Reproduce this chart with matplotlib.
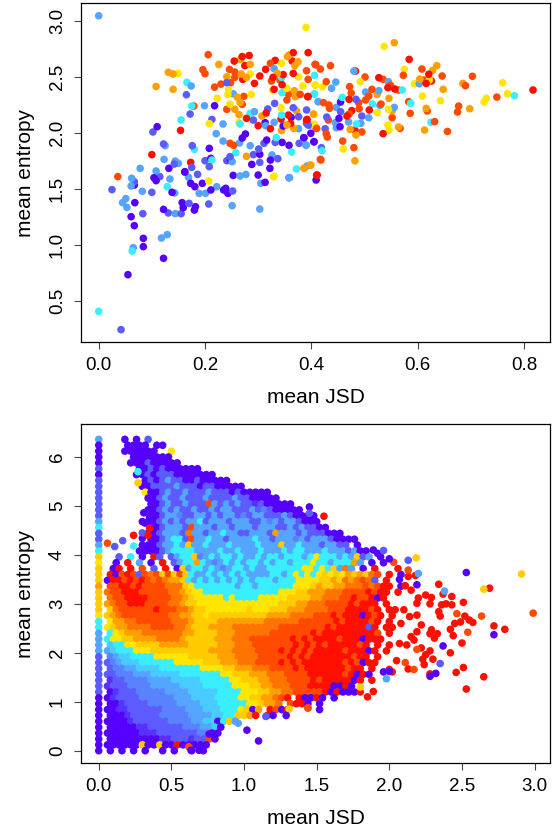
import numpy as np
import matplotlib
matplotlib.use('Agg')
import matplotlib.pyplot as plt

plt.rcParams['font.family'] = ['Liberation Sans', 'DejaVu Sans']

palette = {'0': '#5500FF', 'c': '#5830FF', '1': '#5B5BFF', 'a': '#5882FF', '2': '#55A5FF', 'b': '#48CCFF',
           '3': '#38EEFF', '4': '#FFE600', '5': '#FFCC00', '6': '#FFA000', '7': '#FF7400', '8': '#FF4A00', '9': '#FF0F00'}

# top panel, one list per colour class (mean JSD, mean entropy)
top_purple = [(.218,2.242),(.11,2.055),(.313,2.091),(.362,2.138),(.347,2.061),(.399,1.996),(.276,1.99),(.27,1.954),
    (.208,1.862),(.316,1.936),(.345,1.915),(.358,1.889),(.386,1.957),(.405,1.921),(.211,1.773),(.132,1.684),(.162,1.654),
    (.248,1.758),(.303,1.809),(.288,1.719),(.323,1.758),(.322,1.684),(.067,1.535),(.104,1.6),(.108,1.574),(.138,1.47),
    (.162,1.651),(.173,1.55),(.181,1.52),(.195,1.55),(.211,1.491),(.235,1.491),(.239,1.506),(.243,1.461),(.253,1.621),
    (.3,1.624),(.313,1.559),(.068,1.378),(.061,1.253),(.067,1.173),(.122,1.318),(.157,1.378),(.159,1.333),(.18,1.312),
    (.182,1.342),(.084,1.06),(.084,.986),(.122,.882),(.055,.736),(.455,2.275),(.452,2.129),(.454,2.055),(.386,1.957),
    (.405,1.921),(.409,1.58)]
top_blue = [(.241,2.447),(.165,2.34),(.172,2.168),(.213,2.12),(.102,2.008),(.291,2.114),(.318,2.213),(.331,2.263),
    (.366,2.224),(.391,2.204),(.376,2.144),(.391,2.085),(.397,2.07),(.122,1.901),(.176,1.886),(.301,1.856),(.311,1.907),
    (.332,1.915),(.377,1.907),(.142,1.722),(.2,1.752),(.208,1.699),(.175,1.693),(.247,1.788),(.241,1.752),(.291,1.806),
    (.303,1.737),(.337,1.77),(.358,1.6),(.067,1.565),(.025,1.494),(.1,1.47),(.115,1.61),(.186,1.63),(.207,1.366),
    (.252,1.482),(.083,1.28),(.131,1.286),(.155,1.28),(.17,1.372),(.042,.246),(.484,2.299),(.455,2.189),(.429,2.141),
    (.495,2.15),(.426,2.037),(.394,2.07),(.419,1.868)]
top_light = [(0,3.044),(.174,2.418),(.199,2.242),(.234,2.079),(.253,2.349),(.293,2.189),(.314,2.064),(.33,2.572),
    (.33,2.094),(.376,2.037),(.413,2.278),(.221,1.993),(.125,1.886),(.234,1.927),(.265,1.91),(.285,1.886),(.39,1.892),
    (.123,1.764),(.144,1.749),(.15,1.728),(.078,1.684),(.108,1.66),(.251,1.743),(.326,1.803),(.392,1.705),(.062,1.595),
    (.061,1.526),(.082,1.479),(.134,1.589),(.143,1.464),(.169,1.604),(.189,1.461),(.201,1.461),(.222,1.52),(.266,1.616),
    (.277,1.63),(.305,1.55),(.359,1.601),(.251,1.351),(.303,1.321),(.051,1.414),(.045,1.378),(.053,1.336),(.144,1.28),
    (.118,1.063),(.129,1.093),(.065,.977),(.48,2.551),(.545,2.456),(.603,2.438),(.556,2.227),(.447,2.227),(.502,2.364),
    (.527,2.376),(.529,2.245),(.508,2.135),(.47,2.097),(.493,2.085),(.447,2.046),(.445,2.091),(.413,2.278),(.438,2.397),
    (.446,2.453),(.39,1.889)]
top_cyan = [(.344,2.495),(.406,2.513),(.345,2.358),(.406,2.346),(.166,2.45),(.175,2.239),(.155,2.115),(.285,2.174),
    (.266,2.079),(.344,2.159),(.334,1.957),(.18,1.853),(.213,1.758),(.258,1.823),(.363,1.829),(.372,1.678),(.129,1.52),
    (.063,.947),(0,.409),(.571,2.382),(.587,2.263),(.782,2.331),(.625,2.094),(.458,2.316),(.515,2.257),(.485,2.079),
    (.405,2.346),(.42,1.841)]
top_yellow = [(.39,2.94),(.149,2.53),(.285,2.525),(.344,2.62),(.376,2.498),(.408,2.426),(.384,2.418),(.327,2.382),
    (.354,2.397),(.208,2.082),(.223,2.308),(.243,2.343),(.244,2.382),(.287,2.343),(.247,2.257),(.264,2.091),(.343,2.224),
    (.405,2.165),(.406,2.076),(.329,1.609),(.207,1.571),(.33,1.613),(.537,2.771),(.492,2.456),(.575,2.566),(.594,2.438),
    (.622,2.471),(.76,2.447),(.609,2.328),(.643,2.287),(.769,2.349),(.729,2.308),(.725,2.275),(.524,2.18),(.545,2.21),
    (.544,2.07),(.546,2.025),(.407,2.426),(.421,2.409),(.404,2.076),(.46,1.856),(.386,1.687)]
top_amber = [(.226,2.61),(.285,2.61),(.267,2.655),(.131,2.54),(.14,2.525),(.108,2.414),(.14,2.388),(.241,2.5),
    (.268,2.525),(.278,2.495),(.355,2.679),(.358,2.694),(.375,2.634),(.369,2.599),(.336,2.53),(.368,2.376),(.37,2.322),
    (.261,2.317),(.266,2.272),(.256,2.21),(.264,2.162),(.307,2.15),(.372,2.198),(.354,2.07),(.367,2.04),(.344,2.02),
    (.278,1.791),(.386,1.684),(.399,1.713),(.556,2.804),(.628,2.557),(.636,2.599),(.604,2.48),(.685,2.441),(.648,2.388),
    (.546,2.308),(.698,2.215),(.616,2.218),(.552,2.195),(.613,2.025),(.564,2.052),(.524,2.343),(.404,2.168),(.473,2.031),
    (.484,1.981),(.482,1.751),(.398,1.713)]
top_orange = [(.206,2.697),(.196,2.563),(.2,2.527),(.218,2.408),(.23,2.435),(.246,2.566),(.256,2.542),(.256,2.495),
    (.248,2.447),(.323,2.62),(.391,2.554),(.325,2.462),(.341,2.471),(.394,2.477),(.357,2.346),(.379,2.343),(.179,2.239),
    (.273,2.325),(.27,2.254),(.241,2.21),(.354,2.293),(.409,2.04),(.247,1.907),(.254,1.889),(.418,1.758),(.036,1.61),
    (.407,2.611),(.417,2.569),(.436,2.599),(.501,2.498),(.535,2.477),(.549,2.423),(.564,2.382),(.573,2.513),(.608,2.569),
    (.646,2.507),(.612,2.471),(.703,2.504),(.69,2.421),(.583,2.278),(.749,2.319),(.677,2.239),(.675,2.186),(.618,2.195),
    (.586,2.174),(.552,2.135),(.632,2.1),(.656,2.013),(.567,2.04),(.472,2.412),(.475,2.355),(.514,2.388),(.508,2.328),
    (.502,2.293),(.489,2.269),(.531,2.257),(.49,2.215),(.471,2.168),(.495,2.008),(.41,2.04),(.433,2.248),(.423,2.269),
    (.434,2.219),(.428,2.456),(.432,2.114),(.428,1.993),(.43,1.963),(.459,1.927),(.48,1.868),(.417,1.764)]
top_red = [(.255,2.64),(.27,2.68),(.283,2.69),(.275,2.6),(.271,2.477),(.293,2.441),(.303,2.507),(.314,2.566),(.332,2.646),
    (.366,2.715),(.394,2.715),(.364,2.64),(.408,2.608),(.347,2.519),(.366,2.53),(.328,2.495),(.33,2.388),(.345,2.429),
    (.394,2.325),(.154,2.022),(.278,2.129),(.3,2.064),(.323,2.037),(.315,2.177),(.343,2.123),(.357,2.159),(.361,2.085),
    (.392,2.12),(.1,1.806),(.173,1.737),(.41,1.624),(.584,2.655),(.483,2.551),(.527,2.492),(.544,2.403),(.557,2.391),
    (.621,2.522),(.626,2.462),(.616,2.441),(.817,2.382),(.535,1.993),(.471,2.299),(.509,2.204),(.476,2.198),(.467,2.15),
    (.482,2.025),(.393,2.322),(.391,2.114),(.411,1.624)]
top_classes = [('0', top_purple), ('1', top_blue), ('2', top_light), ('3', top_cyan),
               ('6', top_amber), ('8', top_orange), ('9', top_red), ('4', top_yellow)]

# bottom panel, the dense part: one colour digit per hex cell, row per entropy level
grid_entropy = [6.36 - 0.12 * j for j in range(54)]
grid_rows = [
"   0 0 1",
"   0000 00",
"   000000  4",
"    0000000",
"    000100000",
"     00101000000",
"     00101110000000",
"      010121100100000",
"      001111211101100000",
"      4001211211121110100000",
"       00121121112111121100000",
"       001211211182121211c100000",
"       00121211211212211121a100000",
"       00122a1122121221a122111210000",
"      0001212122312221222112a21221000",
"       0012221822212212221222112121100",
"       0012221722122322112221622212111000",
"       0012331822322122223221222a2122210000",
"      000122325223222322223222522322212211 0",
"     0000123333222232232223222323322232221200",
"  1 3 0 91 12335a23233232232332333234333232512 0",
" 0 9 2 0 9 1233632a2323233232332333433233362 0 0",
" 09 9 8 1 9 05233232a2332322333333443435272 0 9",
"90898187858585322323232322223323434345454656578 9 0",
"09989898787665323232323232333233344445565767871 9",
"8899898888777543333333233233333344456556677787899 0",
"7889998888877654433333333333334445566677788889899 9",
"788999988887765444443433334444455556677788988909",
"67889998888776554444444444444455566777888898999 9",
"57888888988877655444444454445556667777888999989 99",
"567888888887766554555555555566667777888989990989 9",
"46677888888777655556666666677777788888898999989 9",
"45667777888877655566667777777788888888989999919 99",
"34566677777776655556667777778888888989999999998 9",
"344556666777765555566677788888889898999989990999",
"b33445555666665555566677788888889898989999989 9 9",
"2b333444555555555566667777888898989899999899909 9",
"a2bb33334444445555566677778888898989999999899 9",
"1a2bbb33333344444555666777888898989999999898099",
"1aa22bbbb33333334444556667778888989999999899 9",
"11aaa222bbbbb333333344555666777888899999989090",
"c11aaaa2222bbbbb3333344555667778888989999909 9",
"c111aaaa22222bbbb33333444556677788899990090",
"0c111aaaaa2222bbbbb3333444556677888889090009",
"0c1111aaaaaa222bbbb3333445566789 90090 0",
"00c1111aaaaa2222bbb33333445667 8990 0",
"00cc111111aaaa222bbb3334506 9809",
"000c11111aaaaa2222bb335569 90",
"0000c111111aaaa22bb0352",
"00000cc111111aaa22b0",
"000000ccc1111111aa0",
"000000000cc111c1180",
"000000500500900000",
"0 0 0 0  0 0  0 0",
]

# column of points at mean JSD 0
zero_colors = "20000" + "101111111" + "231123" + "54555655554" + "332222" + "1111111" + "0000000000"

# scattered points around the dense part (mean JSD, mean entropy, colour digit)
edge_x = [2.34,2.37,2.43,2.29,2.25,2.28,2.51,2.36,2.39,2.43,2.34,2.35,2.19,2.52,2.55,2.575,2.45,2.49,2.42,2.72,2.795,2.44,
    2.29,2.28,2.33,2.31,2.22,2.5,2.42,2.28,2.25,2.23,2.3,2.24,2.51,2.46,2.65,2.53,2.28,2.13,2.69,2.13,2.18,2.06,2.11,2.15,
    2.2,2.19,2.1,2.14,2.08,2.19,2.15,2.17,2.22,2.12,2.07,2.05,1.85,1.89,2.02,2.0,1.55,
    2.54,2.17,2.635,2.465,2.99,2.19,2.13,2.03,2.11,1.44,.62,.06,1.44,
    2.91,2.65,2.185,1.31,.27,1.8,
    2.53,2.72,2.37,2.32,2.28,2.19,2.07,1.89,1.92,2.0,1.45,1.52,2.0,1.96,1.1,1.02,.82,.76,.69,.635,1.29,.31,.32,.35,.3,
    2.35,2.13,1.96,1.45,1.15,.165,.11,.3,
    2.38,2.2,1.98,.96,
    .24,.27,
    .24,.34,.35]
edge_y = [3.40,3.2,3.15,3.13,3.18,3.0,3.03,2.98,3.0,2.98,2.84,2.75,2.77,2.75,2.67,2.62,2.6,2.63,2.48,2.55,2.48,2.35,
    2.47,2.39,2.39,2.3,2.57,2.2,2.0,2.04,1.96,1.87,1.87,1.76,1.7,1.6,1.51,1.26,1.57,1.67,3.32,3.56,3.58,3.72,3.37,3.28,
    3.12,3.01,2.88,2.74,2.6,2.43,2.33,2.26,2.1,2.16,2.19,1.84,1.1,1.21,1.61,1.66,4.79,
    2.42,1.66,2.75,2.8,2.81,2.07,3.69,3.85,1.8,.87,.08,4.24,.88,
    3.61,3.3,3.94,.85,5.47,1.3,
    3.64,2.37,2.14,1.58,1.52,3.39,3.5,4.1,4.03,3.92,4.98,.84,1.62,1.61,.2,.42,.36,.34,.01,.01,.72,4.86,4.65,4.77,4.34,
    1.78,3.89,4.09,4.85,.7,4.29,4.17,4.45,
    3.26,3.62,1.47,.56,
    4.18,5.7,
    4.4,4.4,4.54]
edge_c = '9'*63 + '8'*13 + '5'*6 + '0'*25 + '1'*8 + '2'*4 + '3'*2 + '9'*3

xticks_top = [0.0, 0.2, 0.4, 0.6, 0.8]
yticks_top = [0.5, 1.0, 1.5, 2.0, 2.5, 3.0]
xticks_bot = [0.0, 0.5, 1.0, 1.5, 2.0, 2.5, 3.0]
yticks_bot = [0, 1, 2, 3, 4, 5, 6]

W, H = 554, 830
fig = plt.figure(figsize=(W / 100, H / 100), dpi=100)
ax1 = fig.add_axes([81.3 / W, 1 - 342 / H, 469 / W, 338.7 / H])
ax2 = fig.add_axes([81.3 / W, 1 - 763 / H, 469 / W, 339 / H])

dot = 30

# top panel colours overlap in no particular order in the reference, so mix the draw order
xs, ys, cs = [], [], []
for c, pts in top_classes:
    for p in pts:
        xs.append(p[0])
        ys.append(p[1])
        cs.append(palette[c])
order = np.argsort((np.array(xs) * 7919 + np.array(ys) * 104) % 1)
ax1.scatter(np.array(xs)[order], np.array(ys)[order], s=dot, c=[cs[i] for i in order], linewidths=0)

# dense field, odd rows shifted half a cell
xs, ys, cs = [], [], []
for j, row in enumerate(grid_rows):
    for i, ch in enumerate(row):
        if ch != ' ':
            xs.append(0.06 + 0.04 * i + 0.02 * (j % 2))
            ys.append(grid_entropy[j])
            cs.append(palette[ch])
ax2.scatter(xs, ys, s=dot, c=cs, linewidths=0)
ax2.scatter([0.0] * len(zero_colors), grid_entropy[:len(zero_colors)], s=dot,
            c=[palette[ch] for ch in zero_colors], linewidths=0)
ax2.scatter(edge_x, edge_y, s=dot, c=[palette[k] for k in edge_c], linewidths=0)

ax1.set_xlim(-0.0327, 0.8495)
ax1.set_ylim(0.136, 3.155)
ax1.set_xticks(xticks_top)
ax1.set_yticks(yticks_top)
ax1.set_xticklabels(['%.1f' % v for v in xticks_top])
ax1.set_yticklabels(['%.1f' % v for v in yticks_top])

ax2.set_xlim(-0.12, 3.108)
ax2.set_ylim(-0.251, 6.674)
ax2.set_xticks(xticks_bot)
ax2.set_yticks(yticks_bot)
ax2.set_xticklabels(['%.1f' % v for v in xticks_bot])
ax2.set_yticklabels([str(v) for v in yticks_bot])

for ax in (ax1, ax2):
    ax.set_xlabel('mean JSD', fontsize=15, labelpad=10)
    ax.set_ylabel('mean entropy', fontsize=15, labelpad=10)
    ax.tick_params(axis='both', length=5, width=0.8, color='#444444', labelsize=13.5, pad=6)
    for lab in ax.get_yticklabels():
        lab.set_rotation(90)
        lab.set_va('center')
    for s in ax.spines.values():
        s.set_linewidth(0.9)
    ax.set_axisbelow(True)

fig.savefig('out.png', dpi=100)
